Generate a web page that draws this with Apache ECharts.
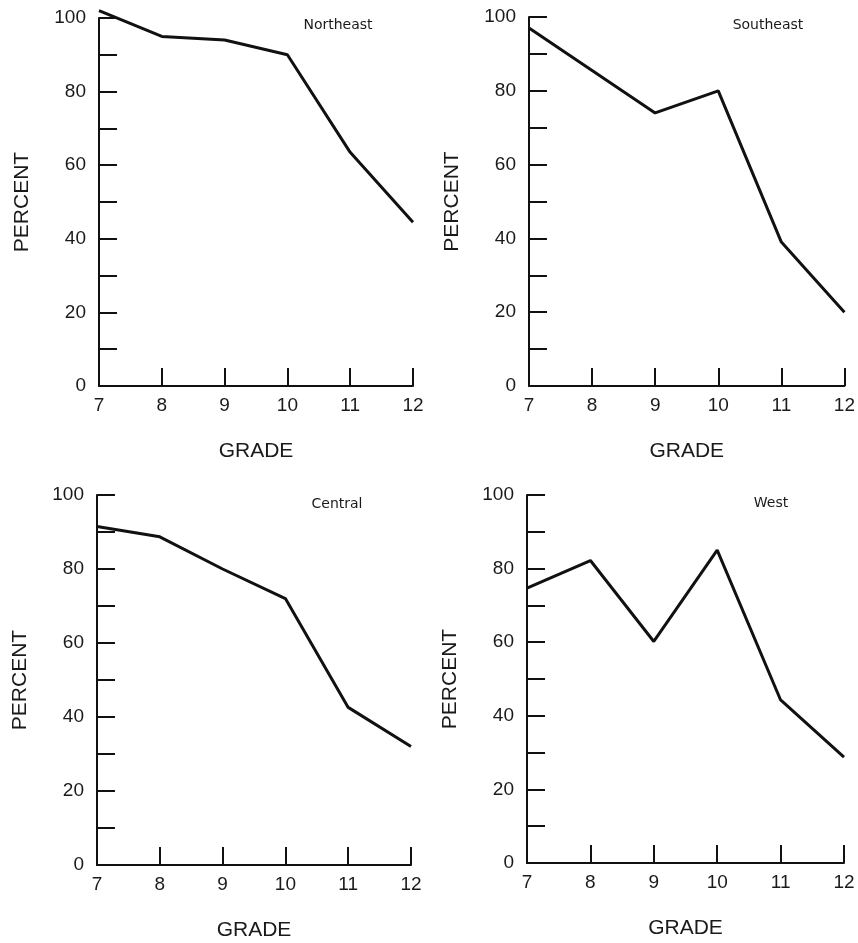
<!DOCTYPE html>
<html>
<head>
<meta charset="utf-8">
<title>Percent by grade, four regions</title>
<script src="https://cdn.jsdelivr.net/npm/echarts@6/dist/echarts.min.js"></script>
<style>
  html, body { margin: 0; padding: 0; background: #fff; }
  #main { width: 858px; height: 943px; }
</style>
</head>
<body>
<div id="main"></div>
<script>
"use strict";
// grades on the x axis
var grades = [7, 8, 9, 10, 11, 12];
// percent values
var northeast = [102, 95, 94, 90, 63.5, 44.5];
var southeast = [97, 85.5, 74, 80, 39, 20];
var central = [91.5, 88.7, 80, 72, 42.6, 32];
var west = [74.7, 82.2, 60.2, 85, 44.3, 28.8];
var regionNames = ["Northeast", "Southeast", "Central", "West"];

var textColor = "#1a1a1a";
var labelFont = "Liberation Sans";

// panel boxes (plot area), one per region
var boxes = [
    { left: 99, top: 18, width: 314, height: 368, tx: 333, ty: 13 },
    { left: 529, top: 17, width: 319, height: 369, tx: 763, ty: 13 },
    { left: 97, top: 495, width: 314, height: 370, tx: 332, ty: 492 },
    { left: 527, top: 495, width: 317, height: 368, tx: 766, ty: 491 }
];
var values = [northeast, southeast, central, west];

function toPairs(xs, ys){
    var out = [];
    for (var i = 0; i < xs.length; i++) {
        out.push([xs[i], ys[i]]);
    }
    return out;
}

var option = {
    animation: false,
    backgroundColor: "#fff",
    title: [],
    grid: [],
    xAxis: [],
    yAxis: [],
    series: []
};

for (var i = 0; i < boxes.length; i++) {
    var b = boxes[i];
    option.grid.push({ left: b.left, top: b.top, width: b.width, height: b.height });
    option.title.push({
        text: regionNames[i],
        left: b.tx,
        top: b.ty,
        textAlign: "center",
        textStyle: { fontFamily: "DejaVu Sans", fontSize: 14, fontWeight: "normal", color: textColor }
    });
    option.xAxis.push({
        type: "value",
        gridIndex: i,
        min: 7,
        max: 12,
        interval: 1,
        name: "GRADE",
        nameLocation: "middle",
        nameGap: 55,
        nameTextStyle: { fontFamily: labelFont, fontSize: 21, color: textColor },
        axisLine: { show: true, lineStyle: { color: "#111", width: 2 } },
        axisTick: { show: true, inside: true, length: 18, lineStyle: { color: "#111", width: 2 } },
        axisLabel: { margin: 10, fontFamily: labelFont, fontSize: 19, color: textColor },
        splitLine: { show: false }
    });
    option.yAxis.push({
        type: "value",
        gridIndex: i,
        min: 0,
        max: 100,
        interval: 10,
        name: "PERCENT",
        nameLocation: "middle",
        nameGap: 66,
        nameTextStyle: { fontFamily: labelFont, fontSize: 21, color: textColor },
        axisLine: { show: true, lineStyle: { color: "#111", width: 2 } },
        axisTick: { show: true, inside: true, length: 18, lineStyle: { color: "#111", width: 2 } },
        axisLabel: {
            margin: 13,
            fontFamily: labelFont,
            fontSize: 19,
            color: textColor,
            formatter: function(v){ return v % 20 === 0 ? String(v) : ""; }
        },
        splitLine: { show: false }
    });
    option.series.push({
        type: "line",
        xAxisIndex: i,
        yAxisIndex: i,
        data: toPairs(grades, values[i]),
        symbol: "none",
        clip: false,
        lineStyle: { color: "#111", width: 3 }
    });
}

var chart = echarts.init(document.getElementById("main"));
chart.setOption(option);
</script>
</body>
</html>
